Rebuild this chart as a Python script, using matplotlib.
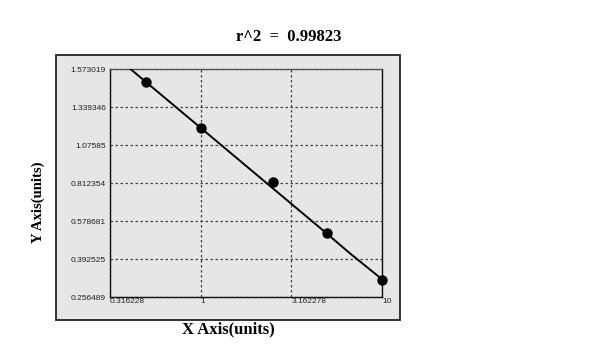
import numpy as np
import matplotlib
matplotlib.use('Agg')
import matplotlib.pyplot as plt
from matplotlib.patches import Rectangle

# standards
conc = [0.5, 1, 2.5, 5, 10]
od = [1.496, 1.196, 0.818, 0.521, 0.317]

# fitted curve
fit_x = [0.41, 4.95, 6.66, 10]
fit_y = [1.573, 0.518, 0.420, 0.320]

x_ticks = [0.316228, 1, 3.162278, 10]
x_labels = ["0.316228", "1", "3.162278", "10"]
y_ticks = [0.256489, 0.392525, 0.578681, 0.812354, 1.07585, 1.339346, 1.573019]
y_labels = ["0.256489", "0.392525", "0.578681", "0.812354", "1.07585", "1.339346", "1.573019"]
r2_text = "r^2  =  0.99823"

# y ticks are evenly spaced on screen, so map them through a piecewise scale
y_pos = np.arange(len(y_ticks))


def fwd(v):
    return np.interp(v, y_ticks, y_pos)


def inv(p):
    return np.interp(p, y_pos, y_ticks)


fig = plt.figure(figsize=(6, 3.56), dpi=100)
fig.patch.set_facecolor('white')

# grey panel behind the plot
fig.patches.append(Rectangle((56 / 600, 1 - 320 / 356), 344 / 600, 265 / 356,
                             transform=fig.transFigure, facecolor='#e6e6e6',
                             edgecolor='#222222', linewidth=1.3, zorder=-5))

ax = fig.add_axes([110 / 600, 1 - 297 / 356, 272 / 600, 228 / 356])
ax.set_zorder(2)
ax.set_facecolor('#e6e6e6')
ax.set_xscale('log')
ax.set_yscale('function', functions=(fwd, inv))
ax.set_xlim(x_ticks[0], x_ticks[-1])
ax.set_ylim(y_ticks[0], y_ticks[-1])

ax.set_xticks(x_ticks)
ax.set_xticklabels(x_labels)
ax.minorticks_off()
ax.set_yticks(y_ticks)
ax.set_yticklabels(y_labels)
for lbl in ax.get_xticklabels():
    lbl.set_ha('left')
ax.tick_params(length=0, labelsize=6, colors='#222222')
ax.tick_params(axis='x', pad=1)
ax.tick_params(axis='y', pad=3)
for lbl in ax.get_xticklabels() + ax.get_yticklabels():
    lbl.set_family('Liberation Sans')

ax.grid(True, color='#444444', linestyle=(0, (2, 2)), linewidth=0.9)
ax.set_axisbelow(True)
for s in ax.spines.values():
    s.set_color('#111111')
    s.set_linewidth(1.0)
ax.spines['top'].set_color('#555555')

ax.plot(fit_x, fit_y, color='black', linewidth=1.4, zorder=3, clip_on=True)
ax.plot(conc, od, 'o', color='black', markersize=6.5, zorder=4, clip_on=False)

fig.text(289 / 600, 1 - 37 / 356, r2_text, ha='center', va='center',
         family='Liberation Serif', fontweight='bold', fontsize=12)
fig.text(228 / 600, 1 - 329 / 356, "X Axis(units)", ha='center', va='center',
         family='Liberation Serif', fontweight='bold', fontsize=12)
fig.text(38 / 600, 1 - 202 / 356, "Y Axis(units)", ha='center', va='center',
         rotation=90, family='Liberation Serif', fontweight='bold', fontsize=10.5)

plt.savefig('out.png', dpi=100)
